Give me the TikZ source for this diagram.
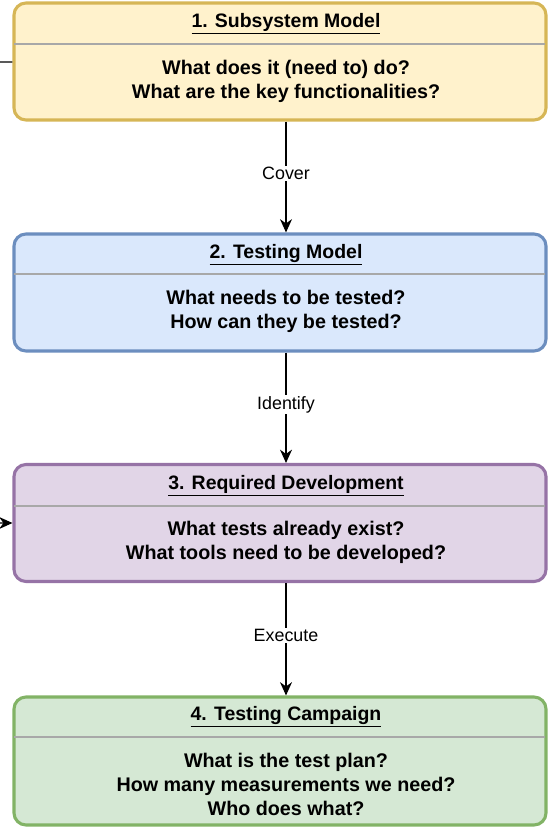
\documentclass[tikz,border=0pt]{standalone}
\usepackage{fontspec}
\setmainfont{Liberation Sans}
\usetikzlibrary{arrows.meta,positioning}
\definecolor{yelfill}{HTML}{FFF2CC}
\definecolor{yelline}{HTML}{D6B656}
\definecolor{bluefill}{HTML}{DAE8FC}
\definecolor{blueline}{HTML}{6C8EBF}
\definecolor{purpfill}{HTML}{E1D5E7}
\definecolor{purpline}{HTML}{9673A6}
\definecolor{grnfill}{HTML}{D5E8D4}
\definecolor{grnline}{HTML}{82B366}
\definecolor{divgray}{HTML}{A8A8A8}

\begin{document}
\begin{tikzpicture}[x=0.75pt,y=-0.75pt,>={Stealth[length=10pt,width=9pt]},thick]
\tikzstyle{box}=[draw,rounded corners=9pt,line width=2.3pt,minimum width=399pt,minimum height=87.75pt]
\tikzstyle{title}=[font=\fontsize{14.6}{16}\selectfont\bfseries]
\tikzstyle{body}=[font=\fontsize{14.8}{18}\selectfont\bfseries,align=center]
\tikzstyle{lab}=[fill=white,font=\fontsize{13.4}{15}\selectfont,inner sep=1pt]
\tikzstyle{divider}=[draw=divgray,line width=1.2pt]
  \useasboundingbox (0,0) rectangle (548,827);
  \clip (0,0) rectangle (548,827);
  % boxes
  \node[box,fill=yelfill,draw=yelline](sub) at (280,61.5){};
  \node[box,fill=bluefill,draw=blueline](test) at (280,292.5){};
  \node[box,fill=purpfill,draw=purpline](dev) at (280,523){};
  \node[box,fill=grnfill,draw=grnline,minimum height=96pt](camp) at (280,761){};
  % dividers
  \draw[divider](14,44)--(545,44);
  \draw[divider](14,274)--(545,274);
  \draw[divider](14,506)--(545,506);
  \draw[divider](14,737)--(545,737);
  % texts
  \node[title](sub-t) at (286,23.5){\underline{1. Subsystem Model}};
  \node[body](sub-b) at (286,81){What does it (need to) do?\\What are the key functionalities?};
  \node[title](test-t) at (286,254.5){\underline{2. Testing Model}};
  \node[body](test-b) at (286,311){What needs to be tested?\\How can they be tested?};
  \node[title](dev-t) at (286,485.5){\underline{3. Required Development}};
  \node[body](dev-b) at (286,542){What tests already exist?\\What tools need to be developed?};
  \node[title](camp-t) at (286,716.5){\underline{4. Testing Campaign}};
  \node[body](camp-b) at (286,784){What is the test plan?\\How many measurements we need?\\Who does what?};
  % flow
  \draw[->](sub-t |- sub.south)--node[lab,pos=0.47]{Cover}(sub-t |- test.north);
  \draw[->](test-t |- test.south)--node[lab,pos=0.47]{Identify}(test-t |- dev.north);
  \draw[->](dev-t |- dev.south)--node[lab,pos=0.47]{Execute}(dev-t |- camp.north);
  % loop back from the left
  \coordinate(loop-a) at (-40,62);
  \coordinate(loop-b) at (-40,523);
  \draw[->,rounded corners=8pt](sub.west |- 0,62)--(loop-a)--(loop-b)--(dev.west |- 0,523);
\end{tikzpicture}
\end{document}
